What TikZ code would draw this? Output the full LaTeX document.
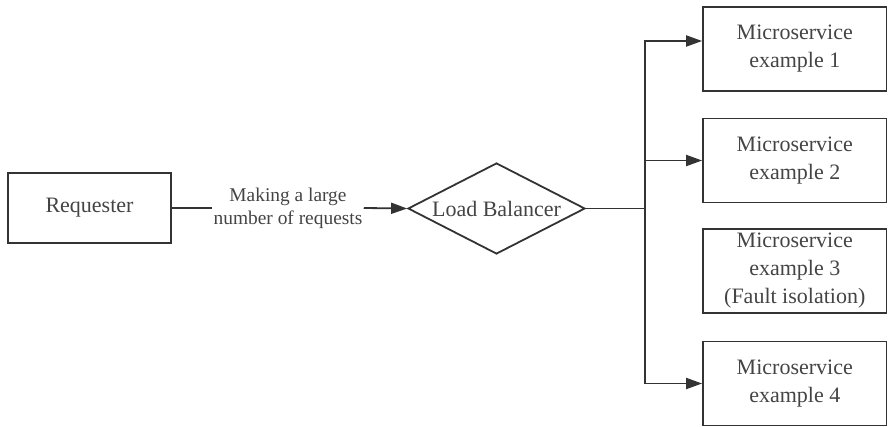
\documentclass[tikz,border=0pt]{standalone}
\usepackage{fontspec}
\setmainfont{Liberation Serif}
\usepackage{xcolor}
\usepackage{tikz}
\usetikzlibrary{arrows.meta,shapes.geometric}

\definecolor{linegray}{HTML}{333333}
\definecolor{textgray}{HTML}{444444}

\begin{document}
\begin{tikzpicture}[
  x=.5pt,y=-.5pt,>={Triangle[length=8pt,width=5.5pt]},
  every node/.style={text=textgray},
  box/.style={draw=linegray,line width=.9pt,align=center,
    font=\fontsize{11}{14}\selectfont,inner sep=0pt},
  service/.style={box,minimum width=91.75pt,minimum height=42pt},
  decision/.style={box,diamond,aspect=2,minimum width=88.5pt,
    minimum height=45.5pt},
  edgetext/.style={align=center,font=\fontsize{9.7}{11.6}\selectfont,
    inner xsep=.5pt},
  link/.style={draw=linegray,line width=.9pt}
]
\useasboundingbox (0,0) rectangle (888,427);

\node[box,minimum width=81.5pt,minimum height=35pt] (req) at (89.5,208)
  {Requester};
\node[edgetext] (reqlabel) at (288,208) {Making a large\\number of requests};
\node[decision] (lb) at (496.5,208.5) {Load Balancer};

\node[service] (ms1) at (794.75,49) {Microservice\\example 1};
\node[service] (ms2) at (794.75,160.5) {Microservice\\example 2};
\node[service] (ms3) at (794.75,271) {Microservice\\example 3\\(Fault isolation)};
\node[service] (ms4) at (794.75,383.5) {Microservice\\example 4};

\coordinate (fork) at (645,208.5);

\draw[link] (req.east) -- (reqlabel.west);
\draw[link,->] (reqlabel.east) -- (lb.west);
\draw[link] (lb.east) -- (fork);
\draw[link,->] (fork) |- ([yshift=4pt]ms1.west);
\draw[link,->] (fork) |- (ms2.west);
\draw[link,->] (fork) |- (ms4.west);
\end{tikzpicture}
\end{document}
